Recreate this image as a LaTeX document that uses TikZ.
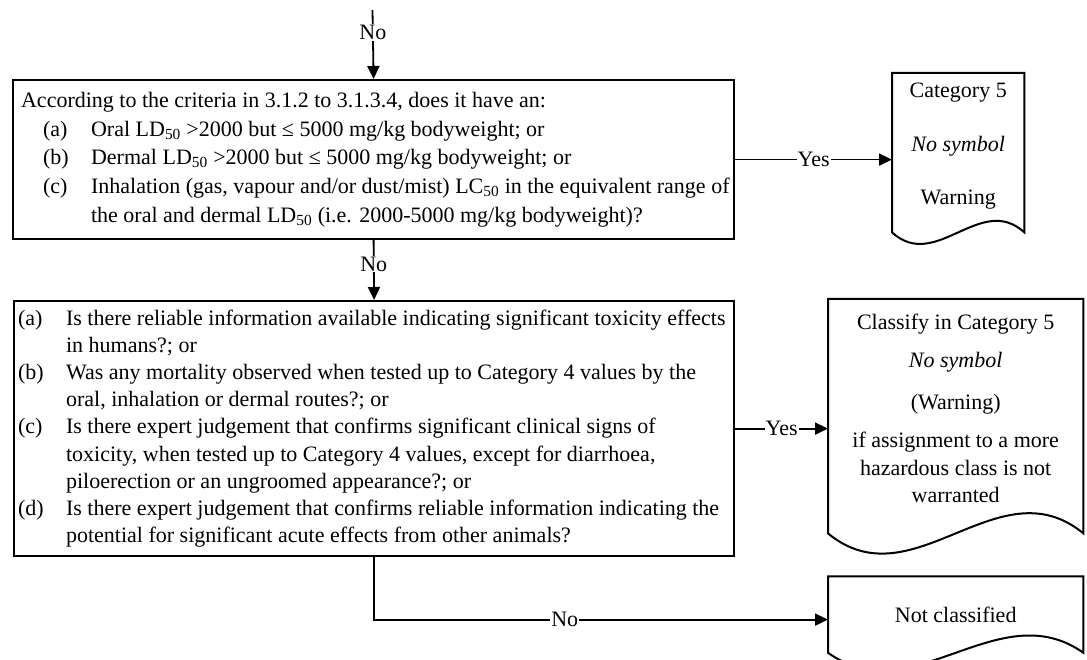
\documentclass[tikz,border=0pt]{standalone}
\usepackage{fontspec}
\setmainfont{Liberation Serif}
\usetikzlibrary{arrows.meta,positioning}

% one criterion line: indent, label, text (hanging)
\newcommand{\critem}[3]{\par\hangindent=\dimexpr#1+48pt\relax\hangafter=1\noindent\hspace*{#1}\makebox[48pt][l]{#2}#3}

\begin{document}
\begin{tikzpicture}[
    x=1pt, y=-1pt,
    font=\fontsize{22}{28.75}\selectfont,
    qbox/.style={draw, line width=2.2pt, inner sep=0pt, anchor=north west},
    docbox/.style={inner sep=0pt, anchor=north west},
    docline/.style={line width=2pt},
    arrow/.style={-{Triangle[length=13pt,width=12pt]}, line width=1.8pt},
    answer/.style={fill=white, inner sep=1pt}
]
    \useasboundingbox (0,0) rectangle (1087,660);

    % Question boxes
    \node[qbox, minimum width=721pt, minimum height=159pt] (crit) at (12,79) {\makebox[705pt][l]{\parbox{760pt}{%
        According to the criteria in 3.1.2 to 3.1.3.4, does it have an:
        \critem{22pt}{(a)}{Oral LD\textsubscript{50} >2000 but ≤ 5000 mg/kg bodyweight; or}
        \critem{22pt}{(b)}{Dermal LD\textsubscript{50} >2000 but ≤ 5000 mg/kg bodyweight; or}
        \critem{22pt}{(c)}{Inhalation (gas, vapour and/or dust/mist) LC\textsubscript{50} in the equivalent range of\newline
            the oral and dermal LD\textsubscript{50} (i.e. 2000-5000 mg/kg bodyweight)?}}}};

    \node[qbox, minimum width=720pt, minimum height=255pt, font=\fontsize{22}{27.2}\selectfont] (extra) at (13,300) {\makebox[712pt][l]{\parbox{760pt}{%
        \critem{0pt}{(a)}{Is there reliable information available indicating significant toxicity effects\newline
            in humans?; or}
        \critem{0pt}{(b)}{Was any mortality observed when tested up to Category 4 values by the\newline
            oral, inhalation or dermal routes?; or}
        \critem{0pt}{(c)}{Is there expert judgement that confirms significant clinical signs of\newline
            toxicity, when tested up to Category 4 values, except for diarrhoea,\newline
            piloerection or an ungroomed appearance?; or}
        \critem{0pt}{(d)}{Is there expert judgement that confirms reliable information indicating the\newline
            potential for significant acute effects from other animals?}}}};

    % Result documents
    \node[docbox, minimum width=132pt, minimum height=159pt] (cat5) at (892,73) {\parbox[c][159pt][t]{132pt}{\centering\vspace*{9.5pt}%
        Category 5\\[25pt]\textit{No symbol}\\[25pt]Warning}};
    \node[docbox, minimum width=255pt, minimum height=234pt, font=\fontsize{22}{27.5}\selectfont] (cls5) at (828,299) {\parbox[c][234pt][t]{255pt}{\centering\vspace*{15pt}%
        Classify in Category 5\\[10.5pt]\textit{No symbol}\\[14.5pt](Warning)\\[10.5pt]if assignment to a more\\hazardous class is not\\warranted}};
    \node[docbox, minimum width=255pt, minimum height=76pt, below right=43pt and 0pt of cls5.south west] (notcls) {Not classified};

    \foreach \doc/\dx/\dy in {cat5/44/40, cls5/85/70, notcls/85/60} {
        \draw[docline] (\doc.south west) -- (\doc.north west) -- (\doc.north east) -- (\doc.south east)
            .. controls +(-\dx,-\dy) and +(\dx,\dy) .. (\doc.south west) -- cycle;
    }

    % Arrows
    \coordinate (start) at (372.5,10);
    \draw[arrow] (start) -- node[answer, pos=0.33]{No} (crit.north);
    \draw[arrow] (crit.south) -- node[answer, pos=0.4]{No} (extra.north);
    \draw[arrow] (crit.east) -- node[answer]{Yes} (crit.east -| cat5.west);
    \draw[arrow] (extra.east) -- node[answer]{Yes} (extra.east -| cls5.west);
    \draw[arrow] (extra.south) |- node[answer, pos=0.71]{No} ([yshift=-5pt]notcls.west);
\end{tikzpicture}
\end{document}
